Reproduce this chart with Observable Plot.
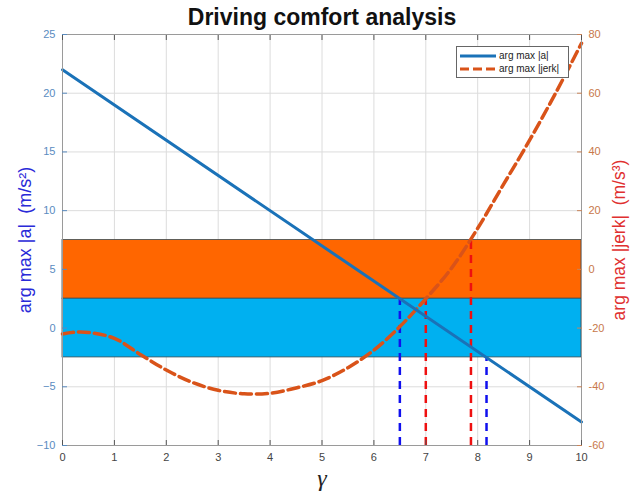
<!DOCTYPE html>
<html>
<head>
<meta charset="utf-8">
<script src="https://cdn.jsdelivr.net/npm/d3@7"></script>
<script src="https://cdn.jsdelivr.net/npm/@observablehq/plot@0.6"></script>
<style>
  body { margin: 0; background: #fff; }
  #wrap { position: relative; width: 632px; height: 500px; font-family: "Liberation Sans", Arial, sans-serif; }
  #legend { position: absolute; left: 456px; top: 46px; width: 113px; height: 32px; border: 1px solid #666; background: #fff; font-size: 10px; color: #222; box-sizing: border-box; padding-top: 2px; }
  #legend .row { display: flex; align-items: center; height: 13px; }
  #legend svg { margin-left: 3px; margin-right: 3px; }
</style>
</head>
<body>
<div id="wrap"></div>
<script>
// ---- data ----
const title = "Driving comfort analysis";
const xLabel = "γ";
const leftLabel = "arg max |a|  (m/s²)";
const rightLabel = "arg max |jerk|  (m/s³)";
const xTicks = [0, 1, 2, 3, 4, 5, 6, 7, 8, 9, 10];
const leftTicks = [-10, -5, 0, 5, 10, 15, 20, 25];
const rightTicks = [-60, -40, -20, 0, 20, 40, 60, 80];

const gammaA = [0, 10];
const accel = [22, -8];

const gammaJ = [0, 0.25, 0.5, 1, 1.5, 2, 2.5, 3, 3.5, 4, 4.5, 5, 5.5, 6, 6.5, 7, 7.5, 8, 8.5, 9, 9.5, 10];
const jerk   = [-22, -21.4, -21.5, -23.5, -29, -34.3, -38.5, -41.2, -42.4, -42.2, -40.4, -37.9, -33.5, -27.5, -19.5, -10, 0.5, 14, 29, 44, 60, 77];

const bandNames = ["jerk", "accel"];
const bandLo = [2.5, -2.5];
const bandHi = [7.5, 2.5];
const bandColors = ["#ff6600", "#00b0f0"];

const markerX = [6.5, 8.17, 7.0, 7.87];
const markerTop = [2.5, -2.5, 2.5, 7.5];
const markerColors = ["#1010ee", "#1010ee", "#ee1010", "#ee1010"];

const legendNames = ["arg max |a|", "arg max |jerk|"];
const seriesColors = ["#1a72b8", "#d95319"];

// ---- derived tables ----
const toLeft = r => (r + 20) / 4; // right axis -> left axis units
const lineA = gammaA.map((g, i) => ({g, v: accel[i]}));
const lineJ = gammaJ.map((g, i) => ({g, v: toLeft(jerk[i])}));
const bands = bandNames.map((n, i) => ({n, x1: xTicks[0], x2: xTicks[xTicks.length - 1], lo: bandLo[i], hi: bandHi[i], c: bandColors[i]}));
const markers = markerX.map((x, i) => ({x, lo: leftTicks[0], hi: markerTop[i], c: markerColors[i]}));

const plot = Plot.plot({
  width: 632,
  height: 500,
  marginLeft: 62,
  marginRight: 51,
  marginTop: 34,
  marginBottom: 55,
  style: {fontFamily: "Liberation Sans, Arial, sans-serif", fontSize: "11px", background: "#fff"},
  x: {domain: [xTicks[0], xTicks[xTicks.length - 1]]},
  y: {domain: [leftTicks[0], leftTicks[leftTicks.length - 1]]},
  marks: [
    Plot.gridX(xTicks, {stroke: "#dcdcdc", strokeOpacity: 1}),
    Plot.gridY(leftTicks, {stroke: "#dcdcdc", strokeOpacity: 1}),
    Plot.rect(bands, {x1: "x1", x2: "x2", y1: "lo", y2: "hi", fill: "c", stroke: "#3a4a50", strokeWidth: 0.8}),
    Plot.ruleX(markers, {x: "x", y1: "lo", y2: "hi", stroke: "c", strokeWidth: 2.5, strokeDasharray: "8,6"}),
    Plot.line(lineJ, {x: "g", y: "v", stroke: seriesColors[1], strokeWidth: 3.5, strokeDasharray: "11,5", curve: "catmull-rom"}),
    Plot.line(lineA, {x: "g", y: "v", stroke: seriesColors[0], strokeWidth: 3}),
    Plot.frame({stroke: "#9a9a9a"}),
    Plot.axisX(xTicks, {anchor: "bottom", tickSize: -5, tickPadding: 13, stroke: "#555", color: "#444", label: null, fontSize: 11}),
    Plot.axisX(xTicks, {anchor: "top", tickSize: -5, stroke: "#555", text: null, label: null}),
    Plot.axisY(leftTicks, {anchor: "left", tickSize: -5, tickPadding: 12, stroke: "#5a8bbf", color: "#5a8bbf", label: null, fontSize: 11}),
    Plot.axisY(leftTicks, {anchor: "right", tickSize: -5, tickPadding: 12, stroke: "#c8845a", color: "#c8784a", label: null, fontSize: 11,
      tickFormat: d => String(rightTicks[leftTicks.indexOf(d)])}),
    Plot.text([title], {frameAnchor: "top", lineAnchor: "middle", dy: -17, fontSize: 23, fontWeight: "bold", fill: "#111"}),
    Plot.text([xLabel], {frameAnchor: "bottom", dy: 40, fontSize: 24, fontStyle: "italic", fontFamily: "Liberation Serif, serif", fill: "#222"}),
    Plot.text([leftLabel], {frameAnchor: "left", textAnchor: "middle", dx: -37, rotate: -90, fontSize: 18, fill: "#2a2ad8"}),
    Plot.text([rightLabel], {frameAnchor: "right", textAnchor: "middle", dx: 38, rotate: -90, fontSize: 17.5, fill: "#e03030"})
  ]
});

const wrap = document.getElementById("wrap");
wrap.appendChild(plot);

// legend
const legend = document.createElement("div");
legend.id = "legend";
legendNames.forEach((name, i) => {
  const row = document.createElement("div");
  row.className = "row";
  const dash = i === 1 ? 'stroke-dasharray="9,4"' : '';
  row.innerHTML = `<svg width="36" height="6"><line x1="0" y1="3" x2="36" y2="3" stroke="${seriesColors[i]}" stroke-width="3" ${dash}/></svg>`;
  const span = document.createElement("span");
  span.textContent = name;
  row.appendChild(span);
  legend.appendChild(row);
});
wrap.appendChild(legend);
</script>
</body>
</html>
